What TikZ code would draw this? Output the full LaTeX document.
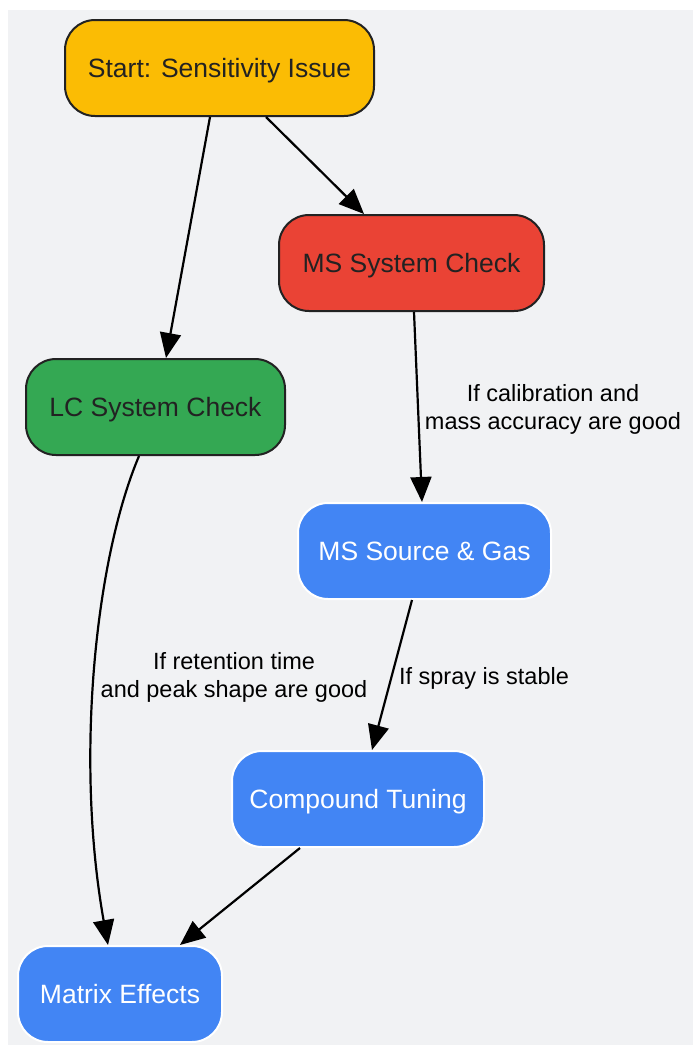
\documentclass[tikz,border=0pt]{standalone}
\usepackage{fontspec}
\setmainfont{Liberation Sans}
\usetikzlibrary{arrows.meta}

\definecolor{startyellow}{HTML}{FBBC04}
\definecolor{msred}{HTML}{EA4335}
\definecolor{lcgreen}{HTML}{34A853}
\definecolor{stepblue}{HTML}{4285F4}
\definecolor{darkline}{HTML}{222222}
\definecolor{backgray}{HTML}{F1F2F4}

\begin{document}
\begin{tikzpicture}[x=1pt, y=-1pt,
    box/.style={rectangle, rounded corners=30pt, draw=darkline, line width=2pt, text=darkline,
        minimum height=96pt, text height=19pt, text depth=0pt, font=\fontsize{26.5}{30}\selectfont},
    bluebox/.style={box, draw=white, fill=stepblue, text=white},
    flow/.style={-{Triangle[length=25pt, width=21pt]}, line width=2.2pt},
    cond/.style={text=black, align=center, font=\fontsize{23.5}{28}\selectfont}]
    % Canvas
    \useasboundingbox (0,0) rectangle (693,1045);
    \fill[backgray] (8,10) rectangle (693,1045);

    % Checks
    \node[box, fill=startyellow, minimum width=309pt] (start) at (219.5,68) {Start: Sensitivity Issue};
    \node[box, fill=msred, minimum width=265pt] (mscheck) at (411.5,263) {MS System Check};
    \node[box, fill=lcgreen, minimum width=259pt] (lccheck) at (155.5,407) {LC System Check};

    % Tuning steps
    \node[bluebox, minimum width=253pt] (source) at (424.5,551) {MS Source \& Gas};
    \node[bluebox, minimum width=252pt] (tuning) at (358,799) {Compound Tuning};
    \node[bluebox, minimum width=204pt] (matrix) at (120,994) {Matrix Effects};

    % Arrows
    \draw[flow] ([xshift=-9.5pt]start.south) -- ([xshift=10.5pt]lccheck.north);
    \draw[flow] ([xshift=46.5pt]start.south) -- ([xshift=-47.5pt]mscheck.north);
    \draw[flow] ([xshift=2.5pt]mscheck.south) -- ([xshift=-2.5pt]source.north);
    \draw[flow] ([xshift=-12.5pt]source.south) -- ([xshift=14pt]tuning.north);
    \draw[flow] ([xshift=-16.5pt]lccheck.south) .. controls (95,560) and (75,760) .. ([xshift=-12pt]matrix.north);
    \draw[flow] ([xshift=-58pt]tuning.south) -- ([xshift=60pt]matrix.north);

    % Conditions
    \node[cond] (calib) at (553,409) {If calibration and\\mass accuracy are good};
    \node[cond] (spray) at (484,678) {If spray is stable};
    \node[cond] (retention) at (234,677) {If retention time\\and peak shape are good};
\end{tikzpicture}
\end{document}
